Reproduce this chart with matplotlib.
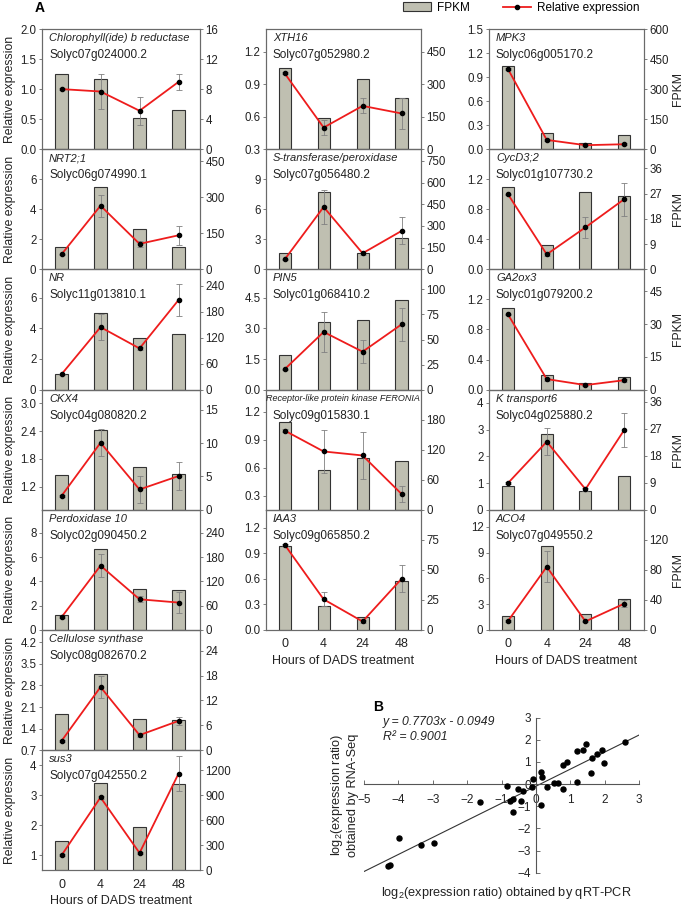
#importing libraries
import numpy as np
import matplotlib
matplotlib.use('Agg')
import matplotlib.pyplot as plt
from matplotlib.patches import Patch
from matplotlib.lines import Line2D

plt.rcParams['font.family'] = ['Liberation Sans', 'DejaVu Sans']
plt.rcParams['mathtext.fontset'] = 'custom'
plt.rcParams['mathtext.rm'] = 'Liberation Sans'
plt.rcParams['mathtext.it'] = 'Liberation Sans:italic'

# ------------------DATA-------------------------------------------
hours = ['0', '4', '24', '48']

genes = ['Chlorophyll(ide) b reductase', 'NRT2;1', 'NR', 'CKX4', 'Perdoxidase 10',
         'Cellulose synthase', 'sus3',
         'XTH16', 'S-transferase/peroxidase', 'PIN5',
         'Receptor-like protein kinase FERONIA', 'IAA3',
         'MPK3', 'CycD3;2', 'GA2ox3', 'K transport6', 'ACO4']
gene_ids = ['Solyc07g024000.2', 'Solyc06g074990.1', 'Solyc11g013810.1', 'Solyc04g080820.2',
            'Solyc02g090450.2', 'Solyc08g082670.2', 'Solyc07g042550.2',
            'Solyc07g052980.2', 'Solyc07g056480.2', 'Solyc01g068410.2',
            'Solyc09g015830.1', 'Solyc09g065850.2',
            'Solyc06g005170.2', 'Solyc01g107730.2', 'Solyc01g079200.2',
            'Solyc04g025880.2', 'Solyc07g049550.2']

# FPKM (bars, right axis)
fpkm = [[10.0, 9.3, 4.2, 5.2],
        [92, 344, 167, 95],
        [35, 178, 119, 128],
        [5.25, 12.0, 6.4, 5.36],
        [36.7, 200, 102, 98],
        [8.7, 18.3, 7.6, 7.2],
        [356, 1048, 516, 1036],
        [374, 146, 323, 238],
        [114, 532, 112, 216],
        [35, 67.7, 69, 89],
        [175, 80, 103, 98],
        [69.7, 20.3, 10.6, 40.8],
        [417, 80, 30, 71],
        [29.3, 8.7, 27.4, 26.3],
        [37.3, 6.5, 3.05, 5.9],
        [7.9, 25.3, 6.4, 11.35],
        [18.5, 111.4, 21.6, 41]]

# relative expression (line, left axis) and its error
rel_expr = [[1.0, 0.96, 0.64, 1.12],
            [1.0, 4.24, 1.7, 2.27],
            [1.0, 4.08, 2.69, 5.85],
            [1.0, 2.15, 1.14, 1.43],
            [1.05, 5.3, 2.53, 2.26],
            [1.0, 2.75, 1.19, 1.65],
            [1.0, 2.93, 1.08, 3.72],
            [1.0, 0.5, 0.7, 0.63],
            [1.0, 6.23, 1.61, 3.84],
            [1.0, 2.83, 1.86, 3.2],
            [1.0, 0.776, 0.733, 0.32],
            [1.0, 0.36, 0.10, 0.6],
            [1.0, 0.116, 0.05, 0.062],
            [1.0, 0.2, 0.56, 0.935],
            [1.0, 0.14, 0.06, 0.125],
            [1.0, 2.55, 0.77, 2.99],
            [1.05, 7.36, 1.0, 3.07]]
rel_err = [[0.02, 0.29, 0.23, 0.13],
           [0.05, 0.73, 0.2, 0.63],
           [0.05, 0.85, 0.1, 1.05],
           [0.02, 0.29, 0.3, 0.3],
           [0.1, 0.95, 0.25, 0.88],
           [0.03, 0.36, 0.05, 0.12],
           [0.03, 0.05, 0.03, 0.59],
           [0.01, 0.07, 0.07, 0.14],
           [0.05, 1.65, 0.2, 1.35],
           [0.03, 1.0, 0.56, 0.8],
           [0.02, 0.23, 0.25, 0.09],
           [0.01, 0.08, 0.02, 0.16],
           [0.01, 0.01, 0.01, 0.01],
           [0.01, 0.02, 0.14, 0.22],
           [0.01, 0.02, 0.01, 0.02],
           [0.03, 0.5, 0.05, 0.63],
           [0.1, 1.8, 0.1, 0.4]]

# axis ranges and tick labels
left_lim = [(0, 2.0), (0, 8), (0, 7.85), (0.7, 3.3), (0, 9.9), (0.7, 4.6), (0.5, 4.5),
            (0.3, 1.41), (0, 12), (0, 5.9), (0.15, 1.44), (0, 1.41),
            (0, 1.5), (0, 1.6), (0, 1.6), (0, 4.5), (0, 14)]
left_ticks = [['0.0', '0.5', '1.0', '1.5', '2.0'], ['0', '2', '4', '6'], ['0', '2', '4', '6'],
              ['1.2', '1.8', '2.4', '3.0'], ['0', '2', '4', '6', '8'],
              ['0.7', '1.4', '2.1', '2.8', '3.5', '4.2'], ['1', '2', '3', '4'],
              ['0.3', '0.6', '0.9', '1.2'], ['0', '3', '6', '9'], ['0.0', '1.5', '3.0', '4.5'],
              ['0.3', '0.6', '0.9', '1.2'], ['0.0', '0.3', '0.6', '0.9', '1.2'],
              ['0.0', '0.3', '0.6', '0.9', '1.2', '1.5'], ['0.0', '0.4', '0.8', '1.2'],
              ['0.0', '0.4', '0.8', '1.2'], ['0', '1', '2', '3', '4'], ['0', '3', '6', '9', '12']]
right_lim = [16, 500, 278, 18, 297, 29, 1440,
             555, 830, 120, 240, 100,
             600, 42.8, 55, 40, 160]
right_ticks = [[0, 4, 8, 12, 16], [0, 150, 300, 450], [0, 60, 120, 180, 240], [0, 5, 10, 15],
               [0, 60, 120, 180, 240], [0, 6, 12, 18, 24], [0, 300, 600, 900, 1200],
               [0, 150, 300, 450], [0, 150, 300, 450, 600, 750], [0, 25, 50, 75, 100],
               [0, 60, 120, 180], [0, 25, 50, 75],
               [0, 150, 300, 450, 600], [0, 9, 18, 27, 36], [0, 15, 30, 45],
               [0, 9, 18, 27, 36], [0, 40, 80, 120]]

# panel B : log2 ratios
qpcr = [2.59, 1.46, 1.38, 1.195, 1.93, 1.78, 1.63, 1.97, 1.60, 1.195, 0.90, 0.78, 0.78,
        0.65, 0.53, 0.15, 0.19, 0.31, 0.15, -0.07, -0.11, -0.38, -0.52, -0.44, -0.66,
        -0.75, -0.67, -0.85, -1.64, -2.96, -3.35, -3.97, -4.31, -4.24]
rnaseq = [1.89, 1.80, 1.54, 1.51, 1.55, 1.36, 1.19, 0.97, 0.51, 0.08, 1.0, 0.86, -0.24,
          0.06, 0.03, 0.56, 0.30, -0.15, -0.95, 0.24, -0.15, -0.29, -0.2, -0.75, -0.65,
          -0.75, -1.25, -0.09, -0.8, -2.65, -2.73, -2.44, -3.71, -3.66]
fit_slope, fit_intercept = 0.7703, -0.0949

# ------------------STYLE-------------------
W, H = 685, 906
bar_color = '#bfbfb1'
spine_color = '#6a6a6a'
columns = [range(0, 7), range(7, 12), range(12, 17)]
col_left = [42, 266, 489]
col_width = [158, 155, 155]
col_xlim = [(-0.5, 3.55), (-0.48, 3.5), (-0.49, 3.51)]
row_top, row_h = 29, 120.2

fig = plt.figure(figsize=(W / 100, H / 100), dpi=100)


def draw_panel(i, rect, xlim, first_col, last_col, bottom):
    ax = fig.add_axes(rect)
    ax2 = ax.twinx()
    x = np.arange(len(hours))
    ax2.bar(x, fpkm[i], width=0.31, color=bar_color, edgecolor='#333333', linewidth=0.8)
    ax.errorbar(x, rel_expr[i], yerr=rel_err[i], fmt='none', ecolor='#808080',
                elinewidth=0.6, capsize=2, capthick=0.6, zorder=2)
    ax.plot(x, rel_expr[i], color='#ee1c1c', lw=1.3, marker='o', ms=3,
            mfc='black', mec='black', zorder=3)
    ax.set_zorder(ax2.get_zorder() + 1)
    ax.patch.set_visible(False)

    ax.set_xlim(xlim)
    ax.set_ylim(left_lim[i])
    ax2.set_ylim(0, right_lim[i])
    ax.set_yticks([float(t) for t in left_ticks[i]])
    ax.set_yticklabels(left_ticks[i])
    ax2.set_yticks(right_ticks[i])
    for a in (ax, ax2):
        for s in a.spines.values():
            s.set_color(spine_color)
            s.set_linewidth(0.8)
        a.tick_params(axis='y', direction='out', length=2.5, width=0.6, colors=spine_color,
                      labelcolor='#222222', labelsize=8.3, pad=1.5)
    ax.set_xticks(x)
    ax.tick_params(axis='x', length=0)
    if bottom:
        ax.set_xticklabels(hours, fontsize=9, color='#222222')
        ax.tick_params(axis='x', pad=6)
        ax.set_xlabel('Hours of DADS treatment', fontsize=9, color='#222222', labelpad=3)
    else:
        ax.set_xticklabels([])

    w_px = rect[2] * W
    if first_col:
        ax.set_ylabel('Relative expression', fontsize=8.8, color='#222222')
        ax.yaxis.set_label_coords(-26 / w_px, 0.5)
    if last_col:
        ax2.set_ylabel('FPKM', fontsize=8.8, color='#222222')
        ax2.yaxis.set_label_coords(1 + 28 / w_px, 0.5)

    if len(genes[i]) > 30:
        ax.text(0.0, 0.925, genes[i], transform=ax.transAxes, fontsize=6.5,
                style='italic', va='center', ha='left', color='#222222')
    else:
        ax.text(0.045, 0.925, genes[i], transform=ax.transAxes, fontsize=8,
                style='italic', va='center', ha='left', color='#222222')
    ax.text(0.045, 0.783, gene_ids[i], transform=ax.transAxes, fontsize=8.5,
            va='center', ha='left', color='#222222')


for c, idx in enumerate(columns):
    n = len(idx)
    for r, i in enumerate(idx):
        top = row_top + r * row_h
        rect = [col_left[c] / W, 1 - (top + row_h) / H, col_width[c] / W, row_h / H]
        draw_panel(i, rect, col_xlim[c], c == 0, c == 2, r == n - 1)

# legend
handles = [Patch(facecolor=bar_color, edgecolor='#333333', linewidth=0.8),
           Line2D([], [], color='#ee1c1c', lw=1.3, marker='o', ms=3, mfc='black', mec='black')]
fig.legend(handles, ['FPKM', 'Relative expression'], ncol=2, frameon=False,
           loc='upper left', bbox_to_anchor=(401 / W, 1.0), fontsize=8.5,
           handlelength=2.4, handleheight=0.75, columnspacing=2.8, handletextpad=0.5,
           borderaxespad=0, borderpad=0.15)

fig.text(40 / W, 1 - 8 / H, 'A', fontsize=10, fontweight='bold', ha='center', va='center')
fig.text(378 / W, 1 - 707 / H, 'B', fontsize=10, fontweight='bold', ha='center', va='center')

# ------------------PANEL B-------------------
axb = fig.add_axes([364 / W, 1 - 872.7 / H, 275 / W, 155 / H])
axb.scatter(qpcr, rnaseq, s=13, color='black', zorder=3)
xl = np.array([-5, 3])
axb.plot(xl, fit_slope * xl + fit_intercept, color='#333333', lw=0.8)
axb.set_xlim(-5, 3)
axb.set_ylim(-4, 3)
axb.spines['left'].set_position(('data', 0))
axb.spines['bottom'].set_position(('data', 0))
axb.spines['top'].set_visible(False)
axb.spines['right'].set_visible(False)
for s in ('left', 'bottom'):
    axb.spines[s].set_color('#555555')
    axb.spines[s].set_linewidth(0.8)
axb.set_xticks(range(-5, 4))
axb.set_yticks(range(-4, 4))
axb.patch.set_visible(False)
axb.tick_params(direction='in', length=3, width=0.6, colors='#555555',
                labelcolor='#222222', labelsize=8.5)
axb.tick_params(axis='x', pad=7)
axb.tick_params(axis='y', pad=3.5)

fig.text(383 / W, 1 - 722 / H, 'y = 0.7703x - 0.0949', fontsize=8.8, style='italic',
         ha='left', va='center', color='#222222')
fig.text(383 / W, 1 - 737 / H, 'R\u00b2 = 0.9001', fontsize=8.8, style='italic',
         ha='left', va='center', color='#222222')
fig.text(506 / W, 1 - 893 / H, 'log$_2$(expression ratio) obtained by qRT-PCR',
         fontsize=9.2, ha='center', va='center', color='#222222')
fig.text(344 / W, 1 - 795 / H, 'log$_2$(expression ratio)\nobtained by RNA-Seq',
         fontsize=9.2, ha='center', va='center', rotation=90, multialignment='center',
         color='#222222')

fig.savefig('out.png', dpi=100)
